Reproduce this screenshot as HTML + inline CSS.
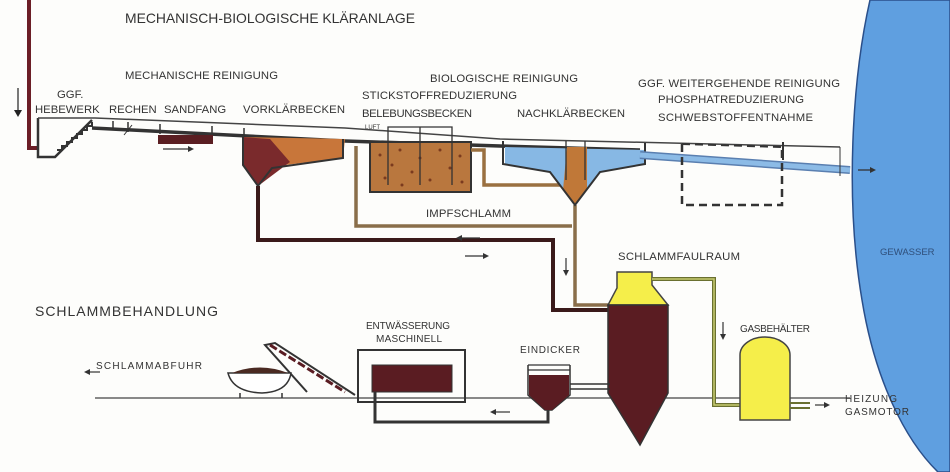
<!DOCTYPE html>
<html><head><meta charset="utf-8"><style>
body{margin:0;background:#fff;}
svg{display:block;font-family:"Liberation Sans",sans-serif;}
text{fill:#333;font-size:11.3px;}
</style></head><body>
<svg width="950" height="472" viewBox="0 0 950 472" xmlns="http://www.w3.org/2000/svg">
<rect width="950" height="472" fill="#fdfdfb"/>
<!-- Gewässer -->
<path d="M870,0 C852,80 845,200 862,300 C875,380 905,440 938,472 L950,472 L950,0 Z" fill="#5f9fe0" stroke="#2a4f8a" stroke-width="1.5"/>
<text x="880" y="255" style="fill:#2f4f7a;font-size:9.5px">GEWASSER</text>

<!-- inlet pipe -->
<path d="M29,0 V148 H37" fill="none" stroke="#6b1e26" stroke-width="4"/>
<path d="M18,88 V114" stroke="#222" stroke-width="1.2"/><path d="M14,110 L18,117 L22,110Z" fill="#222"/>

<!-- Hebewerk -->
<path d="M38,118 V157 H55 L92,120" fill="none" stroke="#333" stroke-width="2.5"/>
<path d="M57,150 l5,0 l0,-4 l5,0 l0,-4 l5,0 l0,-4 l5,0 l0,-4 l5,0 l0,-4 l5,0 l0,-4 l5,0 l0,-4" fill="none" stroke="#333" stroke-width="2"/>

<!-- main channel -->
<path d="M38,118 L95,118 L345,128 L500,139 L840,147" fill="none" stroke="#444" stroke-width="1.5"/>
<path d="M92,128 L345,141 L500,146 L640,150" fill="none" stroke="#333" stroke-width="3.5"/>
<path d="M113,121 V130 M128,122 V132 M160,124 V134 M212,126 V138 M244,128 V140" stroke="#333" stroke-width="1.5"/>
<path d="M124,135 L132,125" stroke="#333" stroke-width="1"/>
<rect x="158" y="135" width="55" height="9" fill="#5a1e22"/>
<path d="M163,149 H190" stroke="#333" stroke-width="1.2"/><path d="M188,146 L194,149 L188,152Z" fill="#333"/>

<!-- Vorklärbecken -->
<path d="M243,137 L345,139 L343,158 L285,165 L258,186 L243,165 Z" fill="#c8763a"/>
<path d="M243,137 L270,139 L290,162 L258,186 L243,165 Z" fill="#7a2a2c"/>
<path d="M243,137 V165 L258,186 L272,168 L343,158 V139" fill="none" stroke="#333" stroke-width="2"/>

<!-- dark sludge pipe -->
<path d="M258,186 V240 H553 V310 H610" fill="none" stroke="#3a1a1a" stroke-width="4"/>
<path d="M460,238 H480" stroke="#333" stroke-width="1.2"/><path d="M462,235 L456,238 L462,241Z" fill="#333"/>
<path d="M465,256 H485" stroke="#333" stroke-width="1.2"/><path d="M483,253 L489,256 L483,259Z" fill="#333"/>

<!-- Belebungsbecken -->
<rect x="370" y="142" width="101" height="50" fill="#b9773e" stroke="#333" stroke-width="2"/>
<g fill="#7a3a1e">
<circle cx="380" cy="155" r="1.5"/><circle cx="392" cy="165" r="1.5"/><circle cx="385" cy="178" r="1.5"/><circle cx="400" cy="150" r="1.5"/><circle cx="412" cy="172" r="1.5"/><circle cx="420" cy="158" r="1.5"/><circle cx="430" cy="180" r="1.5"/><circle cx="440" cy="150" r="1.5"/><circle cx="450" cy="168" r="1.5"/><circle cx="460" cy="156" r="1.5"/><circle cx="462" cy="182" r="1.5"/><circle cx="402" cy="185" r="1.5"/>
</g>
<path d="M388,185 V127 H452 V185 M420,127 V185" fill="none" stroke="#333" stroke-width="1.3"/>
<text x="365" y="129" style="font-size:6px">LUFT</text>

<!-- tan pipes -->
<path d="M356,146 V226 H572" fill="none" stroke="#8a6e4a" stroke-width="3.5"/>
<path d="M471,150 H484 V185 H565" fill="none" stroke="#9a7040" stroke-width="3.5"/>
<path d="M575,205 V305 H610" fill="none" stroke="#8a6e4a" stroke-width="3.5"/>
<path d="M566,258 V272" stroke="#333" stroke-width="1.2"/><path d="M563,270 L566,276 L569,270Z" fill="#333"/>

<!-- Nachklärbecken -->
<path d="M505,147 L645,150 L645,164 L600,172 L575,205 L550,172 L505,164 Z" fill="#87b8e4"/>
<path d="M567,147 H587 V190 L575,205 L563,190Z" fill="#c07838"/>
<path d="M503,141 V164 L550,172 L575,205 L600,172 L645,164 V143" fill="none" stroke="#333" stroke-width="2"/>
<path d="M566,141 V180 M585,141 V180" stroke="#333" stroke-width="1.3"/>

<!-- effluent -->
<path d="M640,155 L850,170" stroke="#5a7fb0" stroke-width="8"/>
<path d="M640,155 L850,170" stroke="#8cbbe6" stroke-width="5"/>
<path d="M840,147 V176" stroke="#333" stroke-width="1"/>
<path d="M858,170 H872" stroke="#333" stroke-width="1.3"/><path d="M870,167 L876,170 L870,173Z" fill="#333"/>
<path d="M682,144 V205 H782 V148" fill="none" stroke="#333" stroke-width="2.5" stroke-dasharray="8,5"/>
<path d="M682,144 L782,147" stroke="#333" stroke-width="2" stroke-dasharray="8,5"/>
<path d="M783,142 V160" stroke="#333" stroke-width="2"/>

<!-- ground line -->
<path d="M95,398 H850" stroke="#444" stroke-width="1.2"/>

<!-- Faulraum -->
<path d="M617,272 H652 V285 L668,305 H608 L617,288 Z" fill="#f5ee4a" stroke="#444" stroke-width="1.5"/>
<path d="M608,305 H668 V393 L640,445 L608,393 Z" fill="#5a1c22" stroke="#333" stroke-width="1.5"/>
<path d="M652,279 H714 V405 H745" fill="none" stroke="#6a7030" stroke-width="4"/>
<path d="M652,279 H714 V405 H745" fill="none" stroke="#c8cc70" stroke-width="1.5"/>
<path d="M723,322 V336" stroke="#333" stroke-width="1.2"/><path d="M720,334 L723,340 L726,334Z" fill="#333"/>

<!-- Gasbehälter -->
<path d="M740,420 V355 A25,18 0 0 1 790,355 V420 Z" fill="#f5ee4a" stroke="#444" stroke-width="1.5"/>
<path d="M790,403 H810 M790,408 H810" stroke="#6a7030" stroke-width="2"/>
<path d="M815,405 H826" stroke="#333" stroke-width="1.2"/><path d="M824,402 L830,405 L824,408Z" fill="#333"/>

<!-- Eindicker -->
<path d="M528,365 H570 M528,370 H570" stroke="#333" stroke-width="1.2"/>
<path d="M528,365 V395 L545,410 H552 L570,395 V365" fill="none" stroke="#333" stroke-width="1.5"/>
<path d="M529,375 H569 V395 L552,410 H545 L529,395Z" fill="#5a1c22"/>
<path d="M570,384 H610 M570,389 H610" stroke="#333" stroke-width="1.5"/>
<path d="M548,410 V422 H375 V392" fill="none" stroke="#333" stroke-width="3"/>
<path d="M494,412 H510" stroke="#333" stroke-width="1.2"/><path d="M496,409 L490,412 L496,415Z" fill="#333"/>

<!-- Entwässerung -->
<rect x="358" y="350" width="107" height="52" fill="none" stroke="#333" stroke-width="2"/>
<rect x="372" y="365" width="80" height="27" fill="#5a1c22" stroke="#333" stroke-width="1"/>
<path d="M307,392 L265,345 L275,343 L355,395" fill="none" stroke="#333" stroke-width="2"/>
<path d="M270,345 L345,392" stroke="#5a1c22" stroke-width="3" stroke-dasharray="8,3"/>
<path d="M228,373 H291 Q288,392 262,393 Q233,392 228,373Z" fill="#fff" stroke="#333" stroke-width="1.5"/>
<path d="M232,373 Q260,362 288,373" fill="#4a2a22"/>
<path d="M240,393 V398 M282,393 V398" stroke="#333" stroke-width="1.5"/>
<path d="M88,372 H100" stroke="#333" stroke-width="1.2"/><path d="M90,369 L84,372 L90,375Z" fill="#333"/>

<!-- labels -->
<text x="125" y="23" style="font-size:13.9px" textLength="290">MECHANISCH-BIOLOGISCHE KLÄRANLAGE</text>
<text x="125" y="79" textLength="153">MECHANISCHE REINIGUNG</text>
<text x="57" y="98">GGF.</text>
<text x="35" y="113">HEBEWERK</text>
<text x="109" y="113">RECHEN</text>
<text x="164" y="113">SANDFANG</text>
<text x="243" y="113" textLength="102">VORKLÄRBECKEN</text>
<text x="430" y="82" textLength="148">BIOLOGISCHE REINIGUNG</text>
<text x="362" y="99" textLength="155">STICKSTOFFREDUZIERUNG</text>
<text x="362" y="117" textLength="110">BELEBUNGSBECKEN</text>
<text x="517" y="117" textLength="108">NACHKLÄRBECKEN</text>
<text x="638" y="87" textLength="202">GGF. WEITERGEHENDE REINIGUNG</text>
<text x="658" y="103" textLength="146">PHOSPHATREDUZIERUNG</text>
<text x="658" y="121" textLength="155">SCHWEBSTOFFENTNAHME</text>
<text x="426" y="217" textLength="85">IMPFSCHLAMM</text>
<text x="618" y="260" textLength="122">SCHLAMMFAULRAUM</text>
<text x="35" y="316" style="font-size:14px" textLength="183">SCHLAMMBEHANDLUNG</text>
<text x="366" y="329" style="font-size:10px" textLength="84">ENTWÄSSERUNG</text>
<text x="376" y="342" style="font-size:10px" textLength="66">MASCHINELL</text>
<text x="520" y="353" style="font-size:10px" textLength="60">EINDICKER</text>
<text x="740" y="332" style="font-size:10px" textLength="70">GASBEHÄLTER</text>
<text x="96" y="369" style="font-size:10px" textLength="106">SCHLAMMABFUHR</text>
<text x="845" y="402" style="font-size:10px" textLength="52">HEIZUNG</text>
<text x="845" y="415" style="font-size:10px" textLength="64">GASMOTOR</text>
</svg>
</body></html>
